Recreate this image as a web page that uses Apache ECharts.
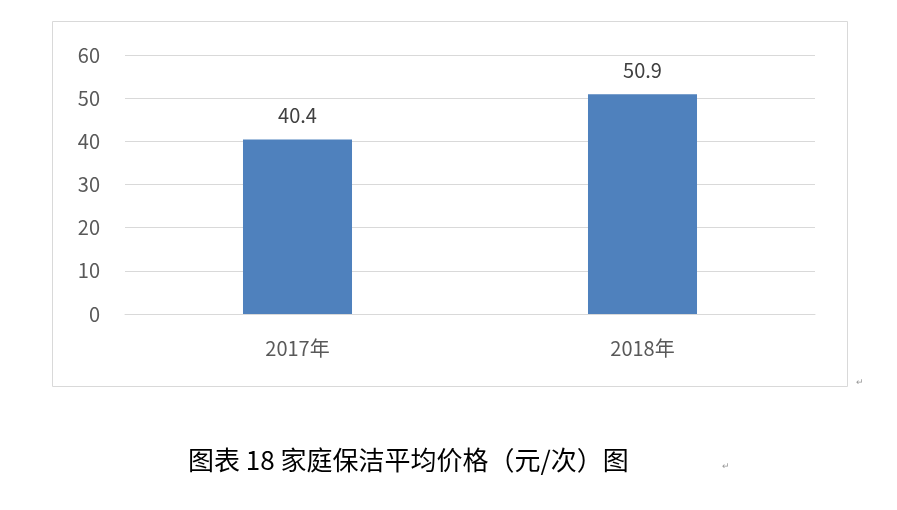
<!DOCTYPE html>
<html>
<head>
<meta charset="utf-8">
<script src="https://cdn.jsdelivr.net/npm/echarts@6/dist/echarts.min.js"></script>
<style>
html, body { margin: 0; padding: 0; background: #fff; }
#main { width: 897px; height: 510px; }
</style>
</head>
<body>
<div id="main"></div>
<script>
var categories = ['2017年', '2018年'];
var prices = [40.4, 50.9];
var yTicks = [0, 10, 20, 30, 40, 50, 60];

var myChart = echarts.init(document.getElementById('main'));

var option = {
    animation: false,
    backgroundColor: '#fff',
    textStyle: {
        fontFamily: '"Noto Sans CJK SC", "Liberation Sans", sans-serif'
    },
    graphic: [{
        type: 'rect',
        shape: { x: 52.5, y: 21.5, width: 795, height: 365 },
        style: { fill: 'none', stroke: '#d9d9d9', lineWidth: 1 }
    }, {
        type: 'text',
        left: 856, top: 378,
        style: { text: '↵', fill: '#999', fontSize: 9 }
    }, {
        type: 'text',
        left: 188, top: 447,
        style: {
            text: '图表 18 家庭保洁平均价格（元/次）图',
            fill: '#000',
            fontSize: 26,
            fontFamily: '"Noto Sans CJK SC", sans-serif'
        }
    }, {
        type: 'text',
        left: 722, top: 462,
        style: { text: '↵', fill: '#999', fontSize: 9 }
    }],
    grid: {
        left: 125,
        right: 82,
        top: 55,
        bottom: 196
    },
    xAxis: {
        type: 'category',
        data: categories,
        axisTick: { show: false },
        axisLine: { lineStyle: { color: '#d9d9d9' } },
        axisLabel: { color: '#595959', fontSize: 20, margin: 24 }
    },
    yAxis: {
        type: 'value',
        min: yTicks[0],
        max: yTicks[yTicks.length - 1],
        interval: 10,
        axisLine: { show: false },
        axisTick: { show: false },
        axisLabel: { color: '#595959', fontSize: 20, margin: 25 },
        splitLine: { lineStyle: { color: '#d9d9d9' } }
    },
    series: [{
        type: 'bar',
        data: prices,
        barWidth: '31.6%',
        itemStyle: { color: '#4f81bd' },
        label: {
            show: true,
            position: 'top',
            distance: 14,
            color: '#404040',
            fontSize: 20
        }
    }]
};
myChart.setOption(option);
</script>
</body>
</html>
